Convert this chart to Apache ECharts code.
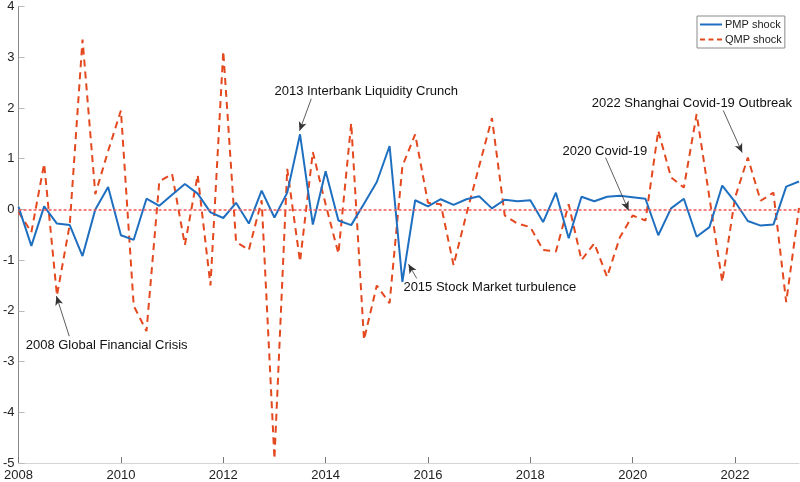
<!DOCTYPE html>
<html>
<head>
<meta charset="utf-8">
<script src="https://cdn.jsdelivr.net/npm/echarts@6/dist/echarts.min.js"></script>
<style>html,body{margin:0;padding:0;background:#fff}#c{width:800px;height:482px}</style>
</head>
<body>
<div id="c"></div>
<script>
const quarters = [
"2008Q1","2008Q2","2008Q3","2008Q4","2009Q1","2009Q2","2009Q3","2009Q4",
"2010Q1","2010Q2","2010Q3","2010Q4","2011Q1","2011Q2","2011Q3","2011Q4",
"2012Q1","2012Q2","2012Q3","2012Q4","2013Q1","2013Q2","2013Q3","2013Q4",
"2014Q1","2014Q2","2014Q3","2014Q4","2015Q1","2015Q2","2015Q3","2015Q4",
"2016Q1","2016Q2","2016Q3","2016Q4","2017Q1","2017Q2","2017Q3","2017Q4",
"2018Q1","2018Q2","2018Q3","2018Q4","2019Q1","2019Q2","2019Q3","2019Q4",
"2020Q1","2020Q2","2020Q3","2020Q4","2021Q1","2021Q2","2021Q3","2021Q4",
"2022Q1","2022Q2","2022Q3","2022Q4","2023Q1","2023Q2"];

const pmpShock = [0.05,-0.72,0.06,-0.28,-0.31,-0.92,0.0,0.44,-0.51,-0.6,
0.21,0.07,0.29,0.5,0.31,-0.06,-0.17,0.13,-0.28,0.37,
-0.16,0.33,1.48,-0.3,0.75,-0.22,-0.31,0.11,0.54,1.25,
-1.43,0.18,0.06,0.2,0.09,0.2,0.26,0.02,0.19,0.16,
0.18,-0.25,0.33,-0.57,0.25,0.16,0.25,0.27,0.24,0.21,
-0.51,0.02,0.21,-0.54,-0.35,0.47,0.15,-0.23,-0.32,-0.3,
0.45,0.55];

const qmpShock = [-0.05,-0.45,0.9,-1.7,-0.3,3.35,0.3,1.15,1.95,-1.9,
-2.4,0.55,0.7,-0.7,0.68,-1.5,3.12,-0.64,-0.8,0.18,
-4.92,0.8,-1.03,1.13,0.1,-0.87,1.7,-2.57,-1.5,-1.85,
0.85,1.48,0.13,0.1,-1.1,-0.1,0.85,1.8,-0.12,-0.28,
-0.35,-0.8,-0.83,0.1,-1.0,-0.67,-1.33,-0.55,-0.12,-0.22,
1.55,0.63,0.43,1.88,0.23,-1.43,0.23,1.02,0.17,0.33,
-1.83,0.03];

const xTicks = [2008,2010,2012,2014,2016,2018,2020,2022];
const yTicks = [-5,-4,-3,-2,-1,0,1,2,3,4];

// annotations: text, text anchor [x, y], arrow tail [x, y], arrow head [x, y]
const annTexts = ["2008 Global Financial Crisis","2013 Interbank Liquidity Crunch","2015 Stock Market turbulence","2020 Covid-19","2022 Shanghai Covid-19 Outbreak"];
const annTextPos = [[2008.14,-2.69],[2013.0,2.32],[2015.52,-1.53],[2018.63,1.14],[2019.2,2.08]];
const annTail = [[2008.99,-2.50],[2013.72,2.18],[2015.78,-1.36],[2019.47,1.02],[2021.77,1.95]];
const annHead = [[2008.74,-1.71],[2013.49,1.55],[2015.62,-1.08],[2019.92,-0.02],[2022.14,1.12]];

function qToX(q){ return parseInt(q.slice(0,4),10) + (parseInt(q.slice(5),10)-1)/4; }
const xs = quarters.map(qToX);
const pmpData = xs.map((x,i)=>[x,pmpShock[i]]);
const qmpData = xs.map((x,i)=>[x,qmpShock[i]]);

const FONT = '"Liberation Sans", Arial, Helvetica, sans-serif';
const SOLID_ICON = 'path://M0,0M0,10M0,4h22v2h-22z';
const DASH_ICON = 'path://M0,0M0,10M0,4h5v2h-5zM8.5,4h5v2h-5zM17,4h5v2h-5z';
const chart = echarts.init(document.getElementById('c'), null, {renderer:'canvas'});
chart.setOption({
  animation:false,
  backgroundColor:'#fff',
  textStyle:{fontFamily:FONT},
  grid:{left:16,right:1,top:5,bottom:19,containLabel:false},
  legend:{
    orient:'vertical', left:697, top:16,
    data:[{name:'PMP shock',icon:SOLID_ICON},{name:'QMP shock',icon:DASH_ICON}],
    itemWidth:22, itemHeight:10, itemGap:4,
    padding:[3,3,3,3],
    borderColor:'#8a8a8a', borderWidth:1, borderRadius:0,
    textStyle:{fontSize:11,color:'#222',fontFamily:FONT,padding:[0,0,0,-2]}
  },
  xAxis:{
    type:'value', min:2008, max:2023.25, interval:2,
    axisLine:{onZero:false,lineStyle:{color:'#d4d4d4',width:1}},
    axisTick:{inside:true,length:6,lineStyle:{color:'#777'},customValues:xTicks},
    axisLabel:{customValues:xTicks,formatter:v=>String(v),fontSize:13,color:'#222',margin:6,fontFamily:FONT},
    splitLine:{show:false}
  },
  yAxis:{
    type:'value', min:-5, max:4, interval:1,
    axisLine:{show:true,lineStyle:{color:'#888',width:1}},
    axisTick:{show:true,inside:true,length:6,lineStyle:{color:'#bbb'},customValues:yTicks},
    axisLabel:{customValues:yTicks,fontSize:13,color:'#222',margin:4,fontFamily:FONT},
    splitLine:{show:false}
  },
  series:[
    {
      name:'QMP shock', type:'line', data:qmpData, symbol:'none', z:2,
      lineStyle:{color:'#E4481E',width:2,type:[7,5]},
      itemStyle:{color:'#E4481E'},
      markLine:{
        silent:true, symbol:['none','none'], label:{show:false},
        lineStyle:{color:'#F25555',width:1.5,type:[3,2]},
        data:[{yAxis:0}]
      }
    },
    {
      name:'PMP shock', type:'line', data:pmpData, symbol:'none', z:3,
      lineStyle:{color:'#1F6FC0',width:2},
      itemStyle:{color:'#1F6FC0'},
      markLine:{
        silent:true, symbol:['none','arrow'], symbolSize:[6,9], label:{show:false},
        lineStyle:{color:'#333',width:0.8,type:'solid'},
        emphasis:{disabled:true},
        data:annTail.map((t,i)=>[{coord:t},{coord:annHead[i]}])
      },
      markPoint:{
        silent:true, symbol:'circle', symbolSize:0,
        label:{show:true,position:'right',distance:0,color:'#111',fontSize:13,fontFamily:FONT,formatter:p=>p.name},
        data:annTexts.map((t,i)=>({name:t,coord:annTextPos[i]}))
      }
    }
  ]
});
</script>
</body>
</html>
